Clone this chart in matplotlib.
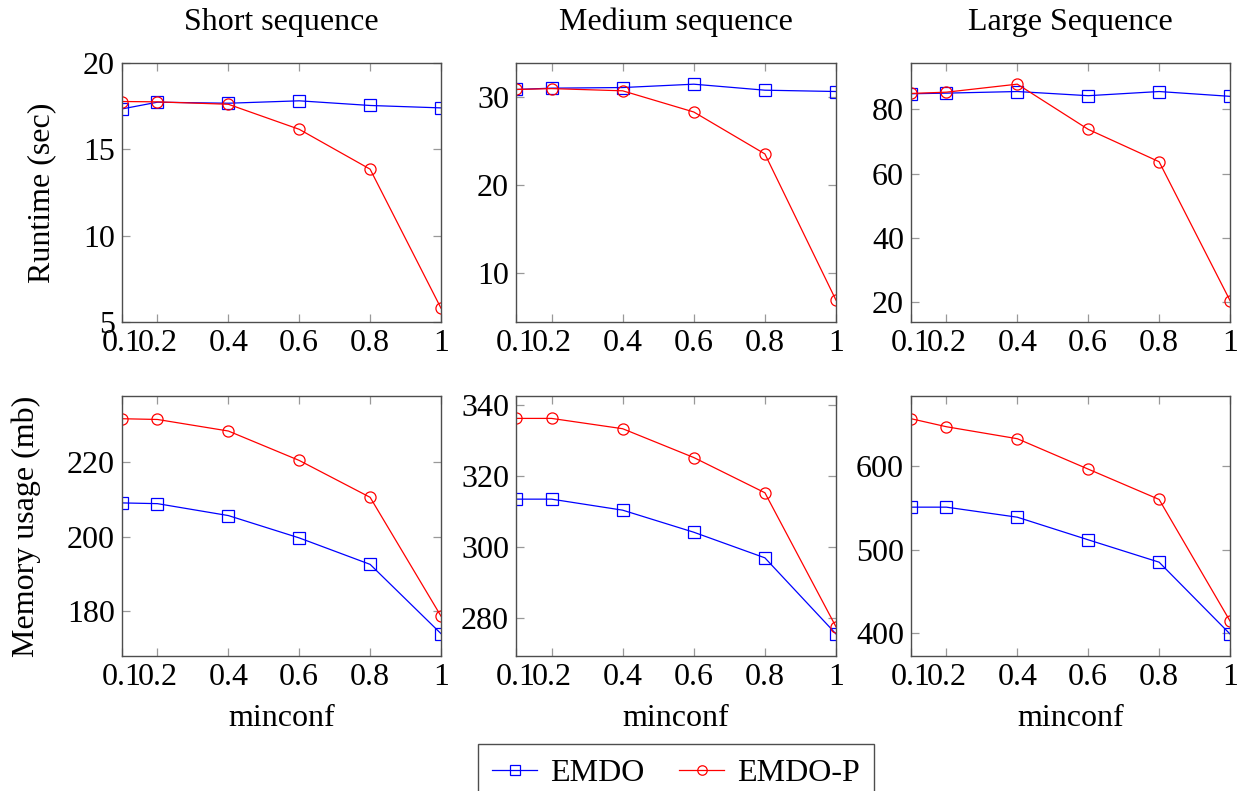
import matplotlib
matplotlib.use("Agg")
import matplotlib.pyplot as plt

plt.rcParams['font.family'] = ['Liberation Serif', 'DejaVu Serif']
plt.rcParams['font.size'] = 23

# data
minconf = [0.1, 0.2, 0.4, 0.6, 0.8, 1.0]
xtick_labels = ["0.1", "0.2", "0.4", "0.6", "0.8", "1"]
titles = ["Short sequence", "Medium sequence", "Large Sequence"]

runtime_emdo = [
    [17.34, 17.73, 17.67, 17.81, 17.54, 17.40],
    [30.8, 30.95, 31.02, 31.4, 30.72, 30.57],
    [84.9, 85.1, 85.6, 84.3, 85.6, 84.1],
]
runtime_emdop = [
    [17.77, 17.75, 17.61, 16.16, 13.85, 5.8],
    [30.8, 30.9, 30.65, 28.25, 23.5, 6.93],
    [85.0, 85.4, 87.9, 73.8, 63.7, 20.4],
]
memory_emdo = [
    [209.1, 208.9, 205.7, 199.7, 192.6, 174.0],
    [313.5, 313.5, 310.4, 304.2, 297.0, 275.6],
    [550.6, 550.6, 538.6, 511.6, 484.9, 399.2],
]
memory_emdop = [
    [231.7, 231.5, 228.4, 220.5, 210.6, 178.7],
    [336.2, 336.2, 333.3, 325.2, 315.3, 277.6],
    [656.2, 646.6, 632.3, 596.0, 559.8, 414.7],
]

runtime_ylim = [(5, 20), (4.46, 33.8), (13.7, 94.5)]
runtime_ticks = [[5, 10, 15, 20], [10, 20, 30], [20, 40, 60, 80]]
memory_ylim = [(168.0, 237.8), (269.4, 342.5), (372.9, 683.3)]
memory_ticks = [[180, 200, 220], [280, 300, 320, 340], [400, 500, 600]]

W, H = 1247, 791
fig = plt.figure(figsize=(W / 100, H / 100), dpi=100)

lefts = [122, 516, 911]
rights = [441, 836, 1230]
rows = [(63, 322), (396, 656)]


def style(ax):
    for s in ax.spines.values():
        s.set_color('#4d4d4d')
        s.set_linewidth(1.0)
    ax.tick_params(direction='in', top=True, right=True, color='#999999',
                   length=6, width=0.9, labelsize=23, pad=5)
    ax.set_xlim(0.1, 1.0)
    ax.set_xticks(minconf)
    ax.set_xticklabels(xtick_labels)


line_kw = dict(lw=0.9, markersize=8, markerfacecolor='none', markeredgewidth=0.9)

handles = None
for r, (top, bot) in enumerate(rows):
    for c in range(3):
        ax = fig.add_axes([lefts[c] / W, 1 - bot / H, (rights[c] - lefts[c]) / W, (bot - top) / H])
        if r == 0:
            e, p = runtime_emdo[c], runtime_emdop[c]
            ylim, yt = runtime_ylim[c], runtime_ticks[c]
        else:
            e, p = memory_emdo[c], memory_emdop[c]
            ylim, yt = memory_ylim[c], memory_ticks[c]
        h1, = ax.plot(minconf, e, color='blue', marker='s', label='EMDO', **line_kw)
        h2, = ax.plot(minconf, p, color='red', marker='o', label='EMDO-P', **line_kw)
        handles = [h1, h2]
        ax.set_ylim(*ylim)
        ax.set_yticks(yt)
        style(ax)
        if r == 0:
            ax.set_title(titles[c], fontsize=23, pad=24)
        else:
            ax.set_xlabel('minconf', fontsize=23, labelpad=9)
        if c == 0:
            ax.set_ylabel('Runtime (sec)' if r == 0 else 'Memory usage (mb)', fontsize=23)
            lx = 56 if r == 0 else 41
            ax.yaxis.set_label_coords((lx - 122) / (441 - 122), 0.5)

leg = fig.legend(handles, ['EMDO', 'EMDO-P'], loc='upper center',
                 bbox_to_anchor=(676 / W, 1 - 744 / H), ncol=2, frameon=True,
                 fancybox=False, edgecolor='#222222', fontsize=23,
                 handlelength=1.4, handletextpad=0.4, columnspacing=1.1,
                 borderpad=0.45, borderaxespad=0, markerscale=0.85)
leg.get_frame().set_linewidth(1.0)

fig.savefig('out.png', dpi=100)
